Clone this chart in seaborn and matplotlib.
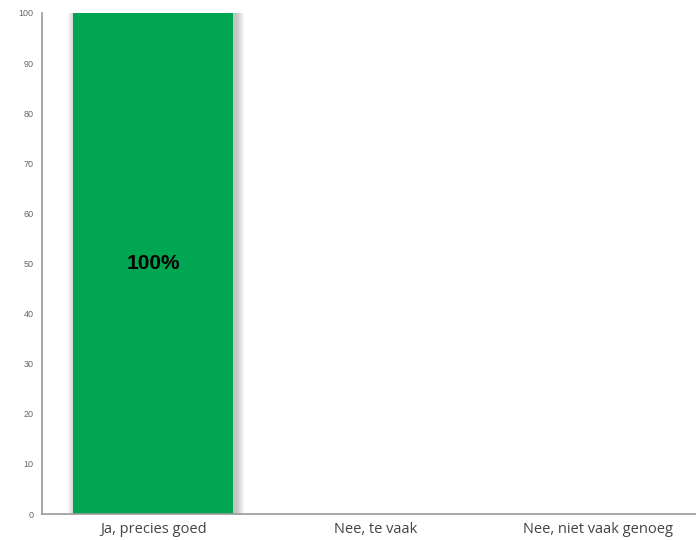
import matplotlib
matplotlib.use("Agg")
import matplotlib.pyplot as plt
import seaborn as sns
import pandas as pd
import numpy as np

categories = ["Ja, precies goed", "Nee, te vaak", "Nee, niet vaak genoeg"]
percentages = [100, 0, 0]
yticks = list(range(0, 101, 10))

sns.set_style("white")
df = pd.DataFrame({"antwoord": categories, "percentage": percentages})

fig = plt.figure(figsize=(6.96, 5.4), dpi=100)
ax = fig.add_axes([42 / 696, 26 / 540, 667.5 / 696, 501 / 540])

bar_width = 0.72
px = 1 / 222.5  # one pixel in category units

# soft drop shadow behind the bars, built from stacked translucent layers
xs = np.arange(len(categories))
for k in range(8, 0, -1):
    ax.bar(xs + 3 * px, percentages, width=bar_width + 2 * k * px,
           color="#333333", alpha=0.04, linewidth=0, edgecolor="none", zorder=1)

sns.barplot(data=df, x="antwoord", y="percentage", color="#00A651",
            saturation=1, width=bar_width, ax=ax, zorder=3,
            linewidth=0, edgecolor="none")

for x, val in zip(xs, percentages):
    if val > 0:
        ax.text(x, val / 2, f"{val}%", ha="center", va="center",
                fontsize=15, fontweight="bold", family="Liberation Sans",
                color="black", zorder=4)

ax.set_ylim(0, 100)
ax.set_xlim(-0.5, 2.5)
ax.set_yticks(yticks)
ax.set_yticklabels([str(t) for t in yticks], fontsize=6.5, color="#666666",
                   family="Liberation Sans")
ax.tick_params(axis="y", length=0, pad=6)
ax.tick_params(axis="x", length=0, pad=6)
for lbl in ax.get_xticklabels():
    lbl.set_fontsize(10.5)
    lbl.set_family("Open Sans")
    lbl.set_color("#444444")
ax.set_xlabel("")
ax.set_ylabel("")

for side in ["top", "right"]:
    ax.spines[side].set_visible(False)
for side in ["left", "bottom"]:
    ax.spines[side].set_color("#999999")
    ax.spines[side].set_linewidth(1.2)
    ax.spines[side].set_zorder(5)

fig.savefig("out.png", dpi=100)
